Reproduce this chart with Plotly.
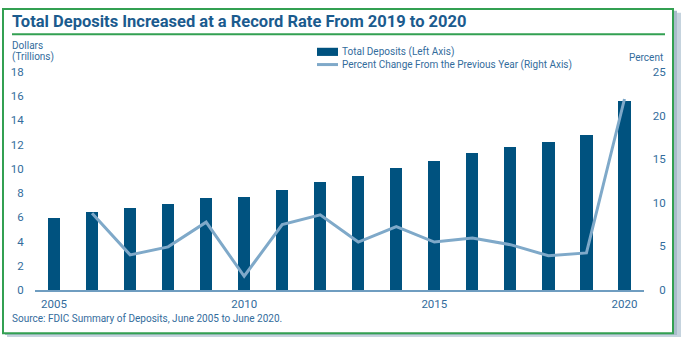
import plotly.graph_objects as go

# Total deposits (trillions of dollars) and year-over-year percent change
years = list(range(2005, 2021))
deposits = [5.94, 6.41, 6.76, 7.07, 7.58, 7.65, 8.29, 8.95, 9.42,
            10.08, 10.66, 11.32, 11.85, 12.25, 12.83, 15.57]
pct_years = list(range(2006, 2021))
pct_change = [8.8, 4.03, 4.95, 7.78, 1.58, 7.51, 8.62, 5.5,
              7.26, 5.5, 5.97, 5.2, 3.93, 4.26, 21.9]

left_ticks = [0, 2, 4, 6, 8, 10, 12, 14, 16, 18]
right_ticks = [0, 5, 10, 15, 20, 25]
x_ticks = [2005, 2010, 2015, 2020]

W, H = 685, 345
FONT = "Roboto"
NAVY = "#00527f"
LINE = "#7fa9c9"
TEXT = "#336c9c"
GREEN = "#33a052"

def px(x):
    return x / W

def py(y):
    return 1 - y / H

fig = go.Figure()

fig.add_trace(go.Bar(
    x=years, y=deposits, width=0.32,
    marker=dict(color=NAVY, line=dict(width=0)),
    name="Total Deposits (Left Axis)", showlegend=False,
))
fig.add_trace(go.Scatter(
    x=pct_years, y=pct_change, yaxis="y2", mode="lines",
    line=dict(color=LINE, width=3),
    name="Percent Change From the Previous Year (Right Axis)", showlegend=False,
))

fig.update_layout(
    width=W, height=H,
    margin=dict(l=0, r=0, t=0, b=0),
    paper_bgcolor="white", plot_bgcolor="rgba(0,0,0,0)",
    font=dict(family=FONT, size=11, color=TEXT),
    bargap=0,
    xaxis=dict(
        domain=[px(35), px(643.5)], range=[2004.5, 2020.5],
        tickvals=x_ticks, ticktext=[str(t) for t in x_ticks],
        showgrid=False, zeroline=False,
        showline=True, linecolor="#6f9dc0", linewidth=2,
        ticks="outside", ticklen=2, tickcolor="rgba(0,0,0,0)",
        tickfont=dict(size=11.5, color=TEXT),
    ),
    yaxis=dict(
        domain=[py(295), py(67.7)], range=[0, 18],
        tickvals=left_ticks, ticktext=[str(t) for t in left_ticks],
        showgrid=False, zeroline=False, showline=False,
        ticks="outside", ticklen=8, tickcolor="rgba(0,0,0,0)",
        tickfont=dict(size=11.5, color=TEXT),
    ),
    yaxis2=dict(
        overlaying="y", side="right", anchor="x", range=[0, 25],
        tickvals=right_ticks,
        ticktext=[("\u2007" + str(t)) if t < 10 else str(t) for t in right_ticks],
        showgrid=False, zeroline=False, showline=False,
        ticks="outside", ticklen=6, tickcolor="rgba(0,0,0,0)",
        tickfont=dict(size=11.5, color=TEXT),
    ),
)

shapes = [
    # drop shadow of the card
    dict(type="rect", xref="paper", yref="paper", layer="below",
         x0=px(7), x1=px(681), y0=py(344), y1=py(6),
         fillcolor="#c5d3de", line=dict(width=0)),
    dict(type="rect", xref="paper", yref="paper", layer="below",
         x0=px(5), x1=px(677), y0=py(342), y1=py(4),
         fillcolor="#a9bccb", line=dict(width=0)),
    # card with green border
    dict(type="rect", xref="paper", yref="paper", layer="below",
         x0=px(3), x1=px(673), y0=py(340), y1=py(2),
         fillcolor="white", line=dict(color=GREEN, width=2)),
    # title underline
    dict(type="line", xref="paper", yref="paper",
         x0=px(12), x1=px(665), y0=py(28.5), y1=py(28.5),
         line=dict(color=GREEN, width=2)),
    # legend keys
    dict(type="rect", xref="paper", yref="paper",
         x0=px(317), x1=px(338), y0=py(51), y1=py(42.5),
         fillcolor=NAVY, line=dict(width=0)),
    dict(type="line", xref="paper", yref="paper",
         x0=px(317), x1=px(338), y0=py(60), y1=py(60),
         line=dict(color=LINE, width=3)),
]
fig.update_layout(shapes=shapes)

def note(text, x, y, size, xanchor="left", color=TEXT, bold=False):
    if bold:
        text = "<b>" + text + "</b>"
    fig.add_annotation(
        text=text, xref="paper", yref="paper", x=px(x), y=py(y),
        xanchor=xanchor, yanchor="middle", showarrow=False,
        font=dict(family=FONT, size=size, color=color),
    )

note("Total Deposits Increased at a Record Rate From 2019 to 2020", 10, 15, 16.5,
     color="#1b5b8e", bold=True)
note("Dollars", 10, 40, 10)
note("(Trillions)", 10, 52.5, 10)
note("Percent", 665, 52.5, 10, xanchor="right")
note("Total Deposits (Left Axis)", 340, 47, 10)
note("Percent Change From the Previous Year (Right Axis)", 340, 60.5, 10)
note("Source: FDIC Summary of Deposits, June 2005 to June 2020.", 10, 325, 10)

fig.write_html("out.html")
